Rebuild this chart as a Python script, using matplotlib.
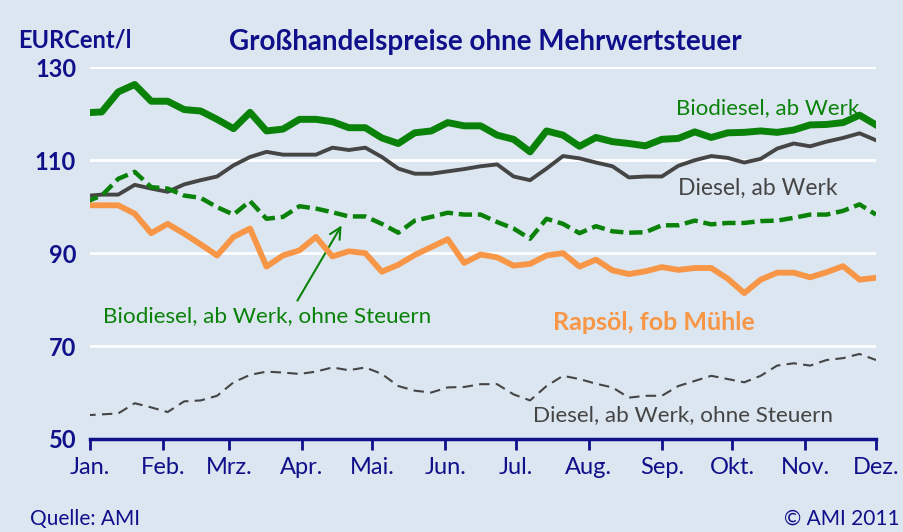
import matplotlib
matplotlib.use("Agg")
import matplotlib.pyplot as plt
import pandas as pd

# weekly quotations, EURCent/l
start_date = "2010-12-30"
n_weeks = 49

biodiesel = [120.2, 120.4, 124.7, 126.3, 122.7, 122.7, 120.9, 120.6, 118.8, 116.8,
             120.3, 116.3, 116.7, 118.8, 118.8, 118.3, 117.0, 117.0, 114.8, 113.6,
             115.9, 116.3, 118.1, 117.4, 117.4, 115.4, 114.5, 111.8, 116.3, 115.4,
             113.0, 114.9, 114.0, 113.6, 113.1, 114.5, 114.7, 116.1, 114.9, 115.9,
             116.0, 116.3, 116.0, 116.5, 117.6, 117.7, 118.1, 119.7, 117.6]

diesel = [102.3, 102.6, 102.6, 104.7, 103.9, 103.2, 104.8, 105.7, 106.5, 108.9,
          110.7, 111.8, 111.2, 111.2, 111.2, 112.7, 112.2, 112.7, 110.7, 108.2,
          107.1, 107.1, 107.6, 108.1, 108.7, 109.1, 106.5, 105.7, 108.2, 110.9,
          110.4, 109.5, 108.7, 106.3, 106.5, 106.5, 108.8, 110.0, 110.9, 110.5,
          109.5, 110.3, 112.5, 113.6, 113.0, 114.0, 114.8, 115.8, 114.3]

biodiesel_net = [101.0, 102.4, 106.0, 107.5, 104.2, 103.9, 102.4, 101.9, 99.9, 98.3,
                 101.2, 97.4, 97.8, 100.1, 99.6, 98.8, 97.9, 97.9, 96.3, 94.4,
                 97.0, 97.8, 98.7, 98.3, 98.3, 96.7, 95.3, 93.1, 97.4, 96.3,
                 94.3, 95.8, 94.7, 94.4, 94.5, 96.0, 96.0, 97.0, 96.2, 96.5,
                 96.5, 96.9, 97.0, 97.6, 98.3, 98.3, 99.1, 100.5, 98.3]

rapsoel = [100.3, 100.3, 100.3, 98.5, 94.3, 96.3, 94.2, 91.9, 89.5, 93.5,
           95.3, 87.1, 89.5, 90.6, 93.5, 89.3, 90.4, 90.0, 86.0, 87.5,
           89.6, 91.3, 93.0, 87.9, 89.7, 89.1, 87.3, 87.7, 89.5, 90.0,
           87.1, 88.6, 86.3, 85.5, 86.1, 87.0, 86.4, 86.8, 86.8, 84.5,
           81.4, 84.3, 85.8, 85.8, 84.8, 85.9, 87.2, 84.3, 84.7]

diesel_net = [55.1, 55.3, 55.5, 57.7, 56.8, 55.8, 58.1, 58.3, 59.3, 62.2,
              63.8, 64.5, 64.3, 64.0, 64.5, 65.4, 64.8, 65.4, 64.0, 61.4,
              60.4, 60.0, 61.1, 61.2, 61.8, 61.8, 59.6, 58.3, 61.4, 63.6,
              62.9, 61.9, 61.1, 58.9, 59.3, 59.3, 61.4, 62.5, 63.6, 62.9,
              62.2, 63.6, 65.8, 66.3, 65.8, 67.0, 67.4, 68.3, 67.0]

month_labels = ["Jan.", "Feb.", "Mrz.", "Apr.", "Mai.", "Jun.", "Jul.",
                "Aug.", "Sep.", "Okt.", "Nov.", "Dez."]
y_ticks = [50, 70, 90, 110, 130]

BG = "#dce6f1"
NAVY = "#10108a"
GREEN = "#0a820a"
ORANGE = "#f79646"
GRAY = "#454545"

plt.rcParams["font.family"] = ["Lato", "DejaVu Sans"]

weeks = pd.date_range(start_date, periods=n_weeks, freq="7D")
months = pd.date_range("2011-01-01", periods=12, freq="MS")

fig = plt.figure(figsize=(9.04, 5.32), dpi=100, facecolor=BG)
ax = fig.add_axes([90 / 904, 1 - 439 / 532, 786 / 904, (439 - 67.3) / 532])
ax.set_facecolor(BG)

ax.plot(weeks, diesel_net, color=GRAY, lw=1.5, dashes=(5, 3), zorder=3)
ax.plot(weeks, diesel, color=GRAY, lw=2.8, zorder=4)
ax.plot(weeks, rapsoel, color=ORANGE, lw=4.2, zorder=5)
ax.plot(weeks, biodiesel_net, color=GREEN, lw=3.2, dashes=(3, 1.3), zorder=6)
ax.plot(weeks, biodiesel, color=GREEN, lw=5, zorder=7)

ax.set_xlim(months[0], months[-1])
ax.set_ylim(50, 130)
ax.set_yticks(y_ticks)
ax.set_yticklabels([str(v) for v in y_ticks], fontsize=17, fontweight="bold", color=NAVY)
ax.set_xticks(months)
ax.set_xticklabels(month_labels, fontsize=17, color=NAVY)
ax.tick_params(axis="y", length=0, pad=10)
ax.tick_params(axis="x", direction="out", length=8, width=2, color=NAVY, pad=5)
ax.grid(axis="y", color="white", lw=2)
ax.set_axisbelow(True)
for side in ["left", "right", "top"]:
    ax.spines[side].set_visible(False)
ax.spines["bottom"].set_color(NAVY)
ax.spines["bottom"].set_linewidth(2.5)
ax.spines["bottom"].set_zorder(10)

# titles and series labels
fig.text(485 / 904, 1 - 42 / 532, "Großhandelspreise ohne Mehrwertsteuer",
         ha="center", va="center", fontsize=20, fontweight="bold", color=NAVY)
fig.text(18 / 904, 1 - 40 / 532, "EURCent/l", ha="left", va="center",
         fontsize=17, fontweight="bold", color=NAVY)

fig.text(676 / 904, 1 - 108 / 532, "Biodiesel, ab Werk", ha="left", va="center",
         fontsize=16, color=GREEN)
fig.text(678 / 904, 1 - 188 / 532, "Diesel, ab Werk", ha="left", va="center",
         fontsize=16.5, color=GRAY)
fig.text(103 / 904, 1 - 316 / 532, "Biodiesel, ab Werk, ohne Steuern", ha="left",
         va="center", fontsize=16.2, color=GREEN)
fig.text(553 / 904, 1 - 322 / 532, "Rapsöl, fob Mühle", ha="left", va="center",
         fontsize=18, fontweight="bold", color=ORANGE)
fig.text(533 / 904, 1 - 415 / 532, "Diesel, ab Werk, ohne Steuern", ha="left",
         va="center", fontsize=16.2, color=GRAY)

ax.annotate("", xy=(343 / 904, 1 - 223 / 532), xycoords="figure fraction",
            xytext=(296 / 904, 1 - 303 / 532), textcoords="figure fraction",
            arrowprops=dict(arrowstyle="->,head_length=0.8,head_width=0.4",
                            color=GREEN, lw=1.5))

fig.text(30 / 904, 1 - 519 / 532, "Quelle: AMI", ha="left", va="center",
         fontsize=15, color=NAVY)
fig.text(900 / 904, 1 - 519 / 532, "© AMI 2011", ha="right", va="center",
         fontsize=15, color=NAVY)

fig.savefig("out.png", dpi=100, facecolor=BG)
